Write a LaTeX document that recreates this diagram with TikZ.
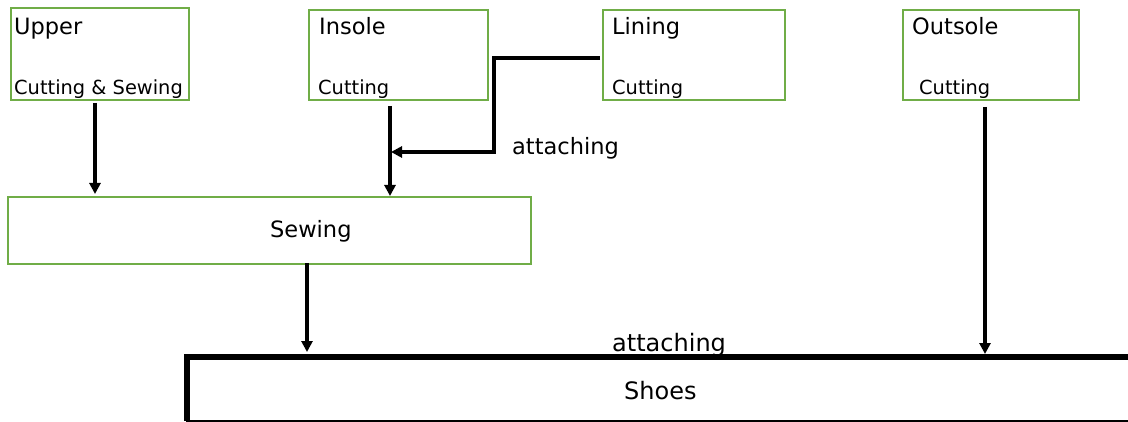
\documentclass[tikz,border=0pt]{standalone}
\usepackage{fontspec}
\setmainfont{DejaVu Sans}
\usetikzlibrary{arrows.meta}
\definecolor{boxgreen}{HTML}{70AD47}
\tikzset{
  gbox/.style={draw=boxgreen, line width=2.2pt, fill=white, inner sep=0pt, outer sep=0pt},
  big/.style={font=\fontsize{22.5}{26}\selectfont, inner sep=0pt, anchor=base west},
  bigger/.style={font=\fontsize{24}{28}\selectfont, inner sep=0pt, anchor=base west},
  small/.style={font=\fontsize{19.4}{23}\selectfont, inner sep=0pt, anchor=base west},
  arr/.style={line width=3.4pt, -{Triangle[length=11pt,width=11pt]}},
}
\begin{document}
\begin{tikzpicture}[x=1pt,y=-1pt]
\useasboundingbox (0,0) rectangle (1128,422);
\clip (0,0) rectangle (1128,422);
% top boxes
\draw[gbox] (11,8) rectangle (189,100);
\node (upperbox) at (100,54) [minimum width=178pt, minimum height=92pt] {};
\draw[gbox] (309,10) rectangle (488,100);
\node (insolebox) at (398.5,55) [minimum width=179pt, minimum height=90pt] {};
\draw[gbox] (603,10) rectangle (785,100);
\node (liningbox) at (694,55) [minimum width=182pt, minimum height=90pt] {};
\draw[gbox] (903,10) rectangle (1079,100);
\node (outsolebox) at (991,55) [minimum width=176pt, minimum height=90pt] {};
% texts in top boxes
\node[big] (tupper) at (14,35) {Upper};
\node[small] (tupper2) at (14,95) {Cutting \& Sewing};
\node[big] (tinsole) at (319,35) {Insole};
\node[small] (tinsole2) at (318,95) {Cutting};
\node[big] (tlining) at (612,35) {Lining};
\node[small] (tlining2) at (612,95) {Cutting};
\node[big] (toutsole) at (912,35) {Outsole};
\node[small] (toutsole2) at (919,95) {Cutting};
% sewing
\draw[gbox] (8,197) rectangle (531,264);
\node (sewing) at (269.5,230.5) [minimum width=523pt, minimum height=67pt] {};
\node[big] (tsewing) at (270,238) {Sewing};
% shoes
\draw[line width=6pt] (1140,357) -- (187,357) -- (187,421);
\draw[line width=4pt] (186,422) -- (1140,422);
\node (shoes) at (657,390) [minimum width=942pt, minimum height=64pt] {};
\node[bigger] (tshoes) at (624,399) {Shoes};
% labels
\node[big] (att1) at (512,155) {attaching};
\node[bigger] (att2) at (612,351) {attaching};
% coordinates for connectors
\coordinate (u1) at (95,103);
\coordinate (u2) at (95,194);
\coordinate (i1) at (390,106);
\coordinate (i2) at (390,196);
\coordinate (l1) at (600,58);
\coordinate (l2) at (494,58);
\coordinate (l3) at (494,152);
\coordinate (l4) at (391,152);
\coordinate (s1) at (307,263);
\coordinate (s2) at (307,352);
\coordinate (o1) at (985,107);
\coordinate (o2) at (985,354);
\draw[arr] (u1) -- (u2);
\draw[arr] (i1) -- (i2);
\draw[arr] (l1) -- (l2) -- (l3) -- (l4);
\draw[arr] (s1) -- (s2);
\draw[arr] (o1) -- (o2);
\end{tikzpicture}
\end{document}
